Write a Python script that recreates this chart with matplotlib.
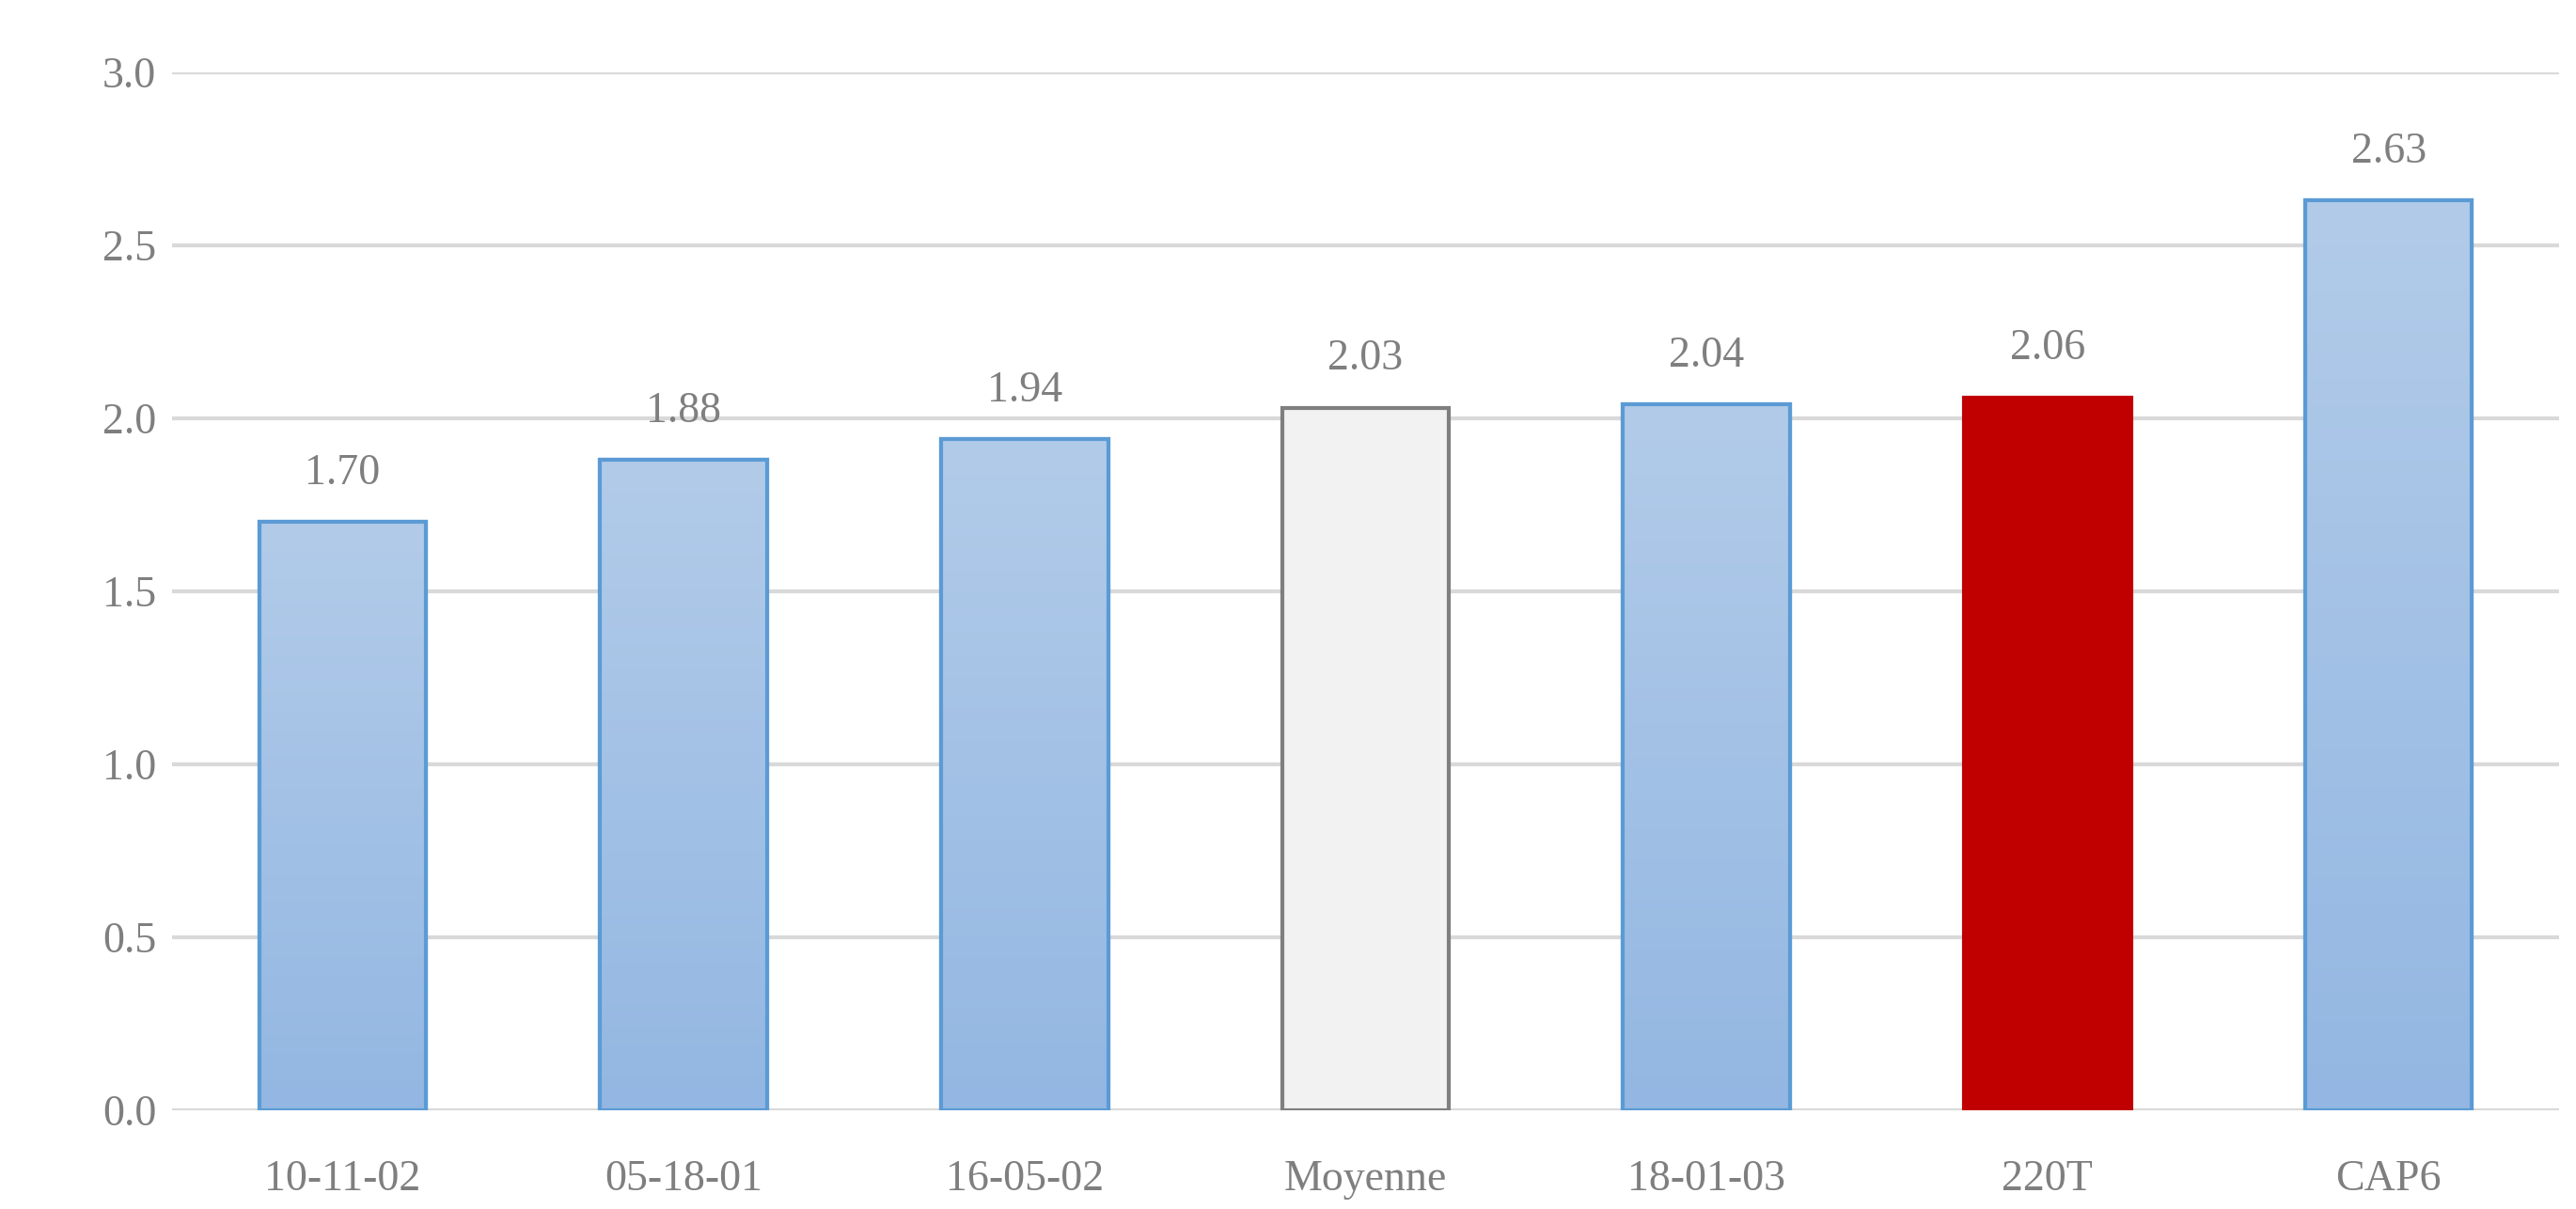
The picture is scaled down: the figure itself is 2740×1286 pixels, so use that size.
import matplotlib
matplotlib.use('Agg')
import matplotlib.pyplot as plt
from matplotlib.colors import LinearSegmentedColormap
import numpy as np

categories = ['10-11-02', '05-18-01', '16-05-02', 'Moyenne', '18-01-03', '220T', 'CAP6']
values = [1.70, 1.88, 1.94, 2.03, 2.04, 2.06, 2.63]
kinds = ['blue', 'blue', 'blue', 'mean', 'blue', 'red', 'blue']
y_ticks = [0.0, 0.5, 1.0, 1.5, 2.0, 2.5, 3.0]

plt.rcParams['font.family'] = ['Liberation Serif', 'DejaVu Serif']
text_col = '#7f7f7f'
fs = 33

fig = plt.figure(figsize=(27.4, 12.86), dpi=100)
ax = fig.add_axes([0.0668, 0.0817, 0.9266, 0.8584])

x = np.arange(len(categories))
faces = {'blue': '#a3c1e6', 'mean': '#f2f2f2', 'red': '#c00000'}
edges = {'blue': '#5b9bd5', 'mean': '#7f7f7f', 'red': '#c00000'}
bars = ax.bar(x, values, width=0.49,
              color=[faces[k] for k in kinds],
              edgecolor=[edges[k] for k in kinds],
              linewidth=3, zorder=3)

# gradient fill for the blue bars
grad = LinearSegmentedColormap.from_list('g', ['#93b7e2', '#b2cbe9'])
for b, k in zip(bars, kinds):
    if k != 'blue':
        continue
    x0, y0 = b.get_x(), b.get_y()
    w, h = b.get_width(), b.get_height()
    im = ax.imshow(np.linspace(0, 1, 256).reshape(-1, 1), cmap=grad,
                   extent=[x0, x0 + w, y0, y0 + h], origin='lower',
                   aspect='auto', zorder=3.5)
    im.set_clip_path(b)
    edge = plt.Rectangle((x0, y0), w, h, fill=False, edgecolor=edges[k],
                         linewidth=3, zorder=4)
    ax.add_patch(edge)

ax.bar_label(bars, labels=['%.2f' % v for v in values], padding=22,
             fontsize=fs, color=text_col, zorder=5)

ax.set_xlim(-0.5, len(categories) - 0.5)
ax.set_ylim(0, 3.0)
ax.set_yticks(y_ticks)
ax.set_yticklabels(['%.1f' % t for t in y_ticks])
ax.set_xticks(x)
ax.set_xticklabels(categories)
ax.tick_params(axis='both', length=0, labelsize=fs, labelcolor=text_col)
ax.tick_params(axis='y', pad=12)
ax.tick_params(axis='x', pad=38)
ax.grid(axis='y', color='#d9d9d9', linewidth=3, zorder=0)
ax.set_axisbelow(True)
for s in ax.spines.values():
    s.set_visible(False)

fig.savefig('out.png', dpi=100)
